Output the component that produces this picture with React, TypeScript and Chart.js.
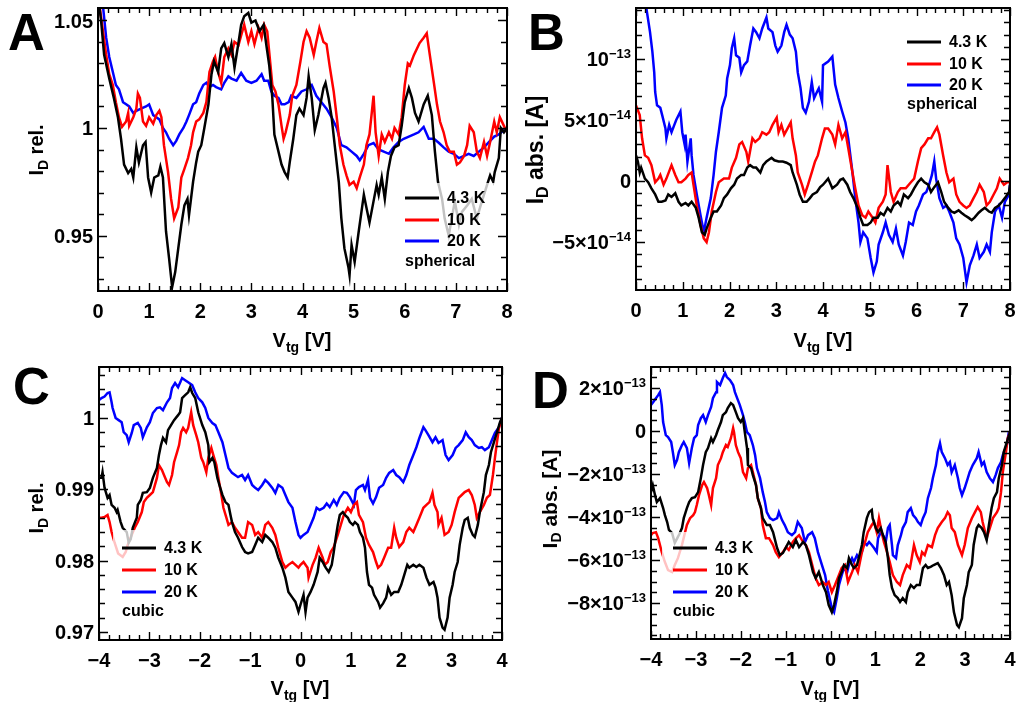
import React, { useEffect, useRef } from "react";
import { Chart, registerables } from "chart.js";

Chart.register(...registerables);

type Pt = [number, number];

// ---------- Panel A (spherical, I_D rel.) : [V_tg (V), I_D rel.] ----------
const aK43: Pt[] = [[0,1.062],[0.06,1.05],[0.12,1.034],[0.22,1.023],[0.31,1.014],[0.39,1.005],[0.45,0.995],[0.51,0.983],[0.59,0.979],[0.65,0.981],[0.69,0.977],[0.75,0.991],[0.8,0.984],[0.88,0.992],[0.93,0.9935],[0.98,0.977],[1.04,0.97],[1.1,0.977],[1.18,0.978],[1.22,0.982],[1.27,0.977],[1.33,0.952],[1.39,0.9395],[1.45,0.926],[1.51,0.933],[1.57,0.944],[1.63,0.955],[1.69,0.964],[1.75,0.967],[1.78,0.9595],[1.86,0.975],[1.92,0.984],[1.96,0.989],[2.02,0.992],[2.08,1.0],[2.16,1.011],[2.22,1.025],[2.27,1.031],[2.35,1.026],[2.41,1.037],[2.47,1.0395],[2.55,1.033],[2.61,1.039],[2.67,1.028],[2.75,1.04],[2.8,1.048],[2.86,1.052],[2.94,1.0535],[3.0,1.049],[3.08,1.05],[3.16,1.045],[3.24,1.048],[3.29,1.039],[3.35,1.029],[3.41,1.014],[3.45,0.997],[3.53,0.989],[3.59,0.983],[3.65,0.9795],[3.71,0.977],[3.75,0.984],[3.82,0.995],[3.88,1.006],[3.94,1.009],[4.02,1.006],[4.08,1.014],[4.12,1.024],[4.18,1.014],[4.24,0.999],[4.31,1.006],[4.41,1.0186],[4.45,1.021],[4.51,1.014],[4.57,1.005],[4.63,0.992],[4.71,0.975],[4.76,0.958],[4.82,0.944],[4.9,0.935],[4.92,0.9316],[4.96,0.9456],[5.02,0.9377],[5.1,0.952],[5.2,0.969],[5.25,0.963],[5.31,0.956],[5.39,0.966],[5.45,0.9735],[5.49,0.969],[5.55,0.977],[5.61,0.967],[5.67,0.9795],[5.73,0.987],[5.8,0.991],[5.88,0.992],[5.94,1.001],[6.0,1.012],[6.08,1.0186],[6.14,1.014],[6.2,1.007],[6.27,1.003],[6.37,1.011],[6.45,1.015],[6.53,1.006],[6.59,0.989],[6.65,0.975],[6.73,0.967],[6.78,0.958],[6.86,0.95],[6.92,0.958],[6.98,0.966],[7.06,0.955],[7.12,0.961],[7.22,0.964],[7.31,0.967],[7.41,0.958],[7.51,0.966],[7.61,0.9735],[7.67,0.978],[7.73,0.975],[7.76,0.9795],[7.84,0.986],[7.88,1.0],[7.94,0.998],[8.0,1.0]];
const aK10: Pt[] = [[0,1.062],[0.08,1.048],[0.16,1.034],[0.22,1.025],[0.29,1.02],[0.35,1.012],[0.41,1.005],[0.47,1.0005],[0.55,1.003],[0.59,1.007],[0.61,1.001],[0.69,1.005],[0.75,1.009],[0.78,1.016],[0.82,1.014],[0.88,1.003],[0.94,1.001],[1.0,1.005],[1.08,1.002],[1.14,1.006],[1.2,1.008],[1.24,1.005],[1.29,0.992],[1.37,0.9795],[1.43,0.967],[1.49,0.958],[1.57,0.963],[1.63,0.977],[1.69,0.981],[1.76,0.986],[1.82,0.992],[1.86,0.998],[1.92,1.003],[1.98,1.004],[2.06,1.007],[2.12,1.012],[2.18,1.026],[2.25,1.031],[2.29,1.033],[2.35,1.026],[2.41,1.021],[2.47,1.033],[2.55,1.037],[2.61,1.034],[2.67,1.04],[2.75,1.0386],[2.8,1.043],[2.86,1.048],[2.94,1.04],[3.0,1.045],[3.06,1.039],[3.14,1.0465],[3.2,1.042],[3.25,1.048],[3.31,1.045],[3.35,1.035],[3.41,1.02],[3.47,1.017],[3.53,1.011],[3.59,1.001],[3.63,0.995],[3.67,0.998],[3.75,1.006],[3.8,1.015],[3.88,1.02],[3.96,1.031],[4.02,1.04],[4.08,1.045],[4.14,1.042],[4.22,1.034],[4.27,1.04],[4.33,1.0465],[4.41,1.04],[4.47,1.039],[4.53,1.029],[4.61,1.017],[4.67,1.005],[4.73,0.992],[4.8,0.983],[4.86,0.978],[4.92,0.9735],[5.0,0.975],[5.06,0.972],[5.12,0.977],[5.2,0.983],[5.25,0.992],[5.31,0.997],[5.39,1.015],[5.43,0.998],[5.49,0.987],[5.55,0.997],[5.61,0.9935],[5.69,0.998],[5.75,0.995],[5.8,1.0],[5.88,0.997],[5.94,1.005],[6.0,1.02],[6.06,1.03],[6.1,1.029],[6.18,1.034],[6.24,1.037],[6.29,1.0395],[6.37,1.042],[6.43,1.044],[6.49,1.034],[6.57,1.021],[6.63,1.011],[6.69,1.003],[6.76,0.998],[6.82,0.992],[6.88,0.989],[6.96,0.989],[7.02,0.983],[7.08,0.984],[7.16,0.987],[7.22,0.992],[7.27,1.001],[7.35,0.998],[7.41,0.989],[7.47,0.986],[7.55,0.9935],[7.61,0.987],[7.67,0.9935],[7.75,1.003],[7.8,0.998],[7.86,1.005],[7.94,1.001],[8.0,0.998]];
const aK20: Pt[] = [[0,1.062],[0.1,1.056],[0.16,1.042],[0.22,1.033],[0.29,1.026],[0.35,1.02],[0.41,1.018],[0.49,1.012],[0.55,1.011],[0.61,1.01],[0.69,1.007],[0.75,1.008],[0.84,1.009],[0.94,1.01],[1.0,1.011],[1.08,1.006],[1.14,1.005],[1.2,1.004],[1.27,1.0],[1.33,0.998],[1.39,0.995],[1.47,0.992],[1.53,0.994],[1.59,0.997],[1.67,1.0],[1.73,1.003],[1.78,1.006],[1.86,1.011],[1.92,1.012],[1.98,1.016],[2.06,1.02],[2.12,1.021],[2.18,1.019],[2.25,1.02],[2.31,1.019],[2.41,1.018],[2.47,1.021],[2.55,1.024],[2.61,1.023],[2.71,1.022],[2.8,1.0256],[2.9,1.022],[3.0,1.021],[3.1,1.022],[3.2,1.025],[3.25,1.022],[3.33,1.022],[3.39,1.017],[3.45,1.015],[3.53,1.014],[3.59,1.011],[3.65,1.011],[3.73,1.012],[3.78,1.015],[3.88,1.014],[3.98,1.017],[4.08,1.018],[4.18,1.02],[4.27,1.015],[4.37,1.012],[4.47,1.009],[4.57,1.005],[4.67,1.0],[4.76,0.992],[4.86,0.991],[4.96,0.989],[5.06,0.987],[5.12,0.985],[5.2,0.988],[5.29,0.992],[5.39,0.993],[5.49,0.99],[5.59,0.989],[5.69,0.988],[5.78,0.991],[5.88,0.9935],[5.98,0.995],[6.08,0.996],[6.18,0.997],[6.27,0.998],[6.37,1.0005],[6.47,0.995],[6.57,0.995],[6.67,0.993],[6.76,0.991],[6.86,0.989],[6.96,0.988],[7.06,0.986],[7.16,0.987],[7.25,0.988],[7.35,0.987],[7.45,0.989],[7.55,0.991],[7.65,0.9935],[7.75,0.996],[7.84,0.997],[7.94,0.999],[8.0,1.0]];

// ---------- Panel B (spherical, I_D abs.) : [V_tg (V), I_D in units of 1e-14 A] ----------
const bK43: Pt[] = [[0,2.1],[0.04,1.6],[0.08,0.7],[0.11,1.1],[0.19,0.2],[0.26,-0.1],[0.33,-0.6],[0.41,-1.1],[0.48,-1.7],[0.55,-1.7],[0.63,-1.6],[0.69,-1.1],[0.76,-1.3],[0.84,-1.0],[0.91,-1.7],[0.97,-2.0],[1.06,-1.8],[1.12,-2.0],[1.19,-1.7],[1.28,-2.2],[1.34,-3.0],[1.41,-4.2],[1.47,-4.4],[1.51,-3.9],[1.6,-3.0],[1.66,-2.5],[1.73,-2.5],[1.82,-2.0],[1.88,-1.4],[1.95,-1.1],[2.03,-0.6],[2.1,-0.3],[2.16,0.2],[2.25,0.5],[2.31,0.5],[2.38,1.1],[2.44,1.3],[2.51,1.1],[2.57,1.1],[2.66,0.7],[2.72,1.3],[2.79,1.6],[2.9,1.9],[2.96,1.7],[3.05,1.6],[3.14,1.6],[3.22,1.5],[3.31,1.3],[3.35,0.7],[3.44,-0.3],[3.5,-1.1],[3.57,-1.7],[3.65,-1.7],[3.72,-1.4],[3.78,-1.1],[3.87,-0.9],[3.94,-0.5],[4.0,-0.3],[4.11,0.2],[4.2,-0.6],[4.3,-0.3],[4.37,0.1],[4.43,0.2],[4.52,-0.3],[4.58,-0.9],[4.65,-1.4],[4.74,-2.2],[4.8,-3.0],[4.86,-3.6],[4.95,-3.6],[5.02,-3.4],[5.08,-3.0],[5.17,-3.0],[5.23,-2.6],[5.3,-2.8],[5.38,-2.2],[5.45,-2.5],[5.51,-2.0],[5.6,-1.7],[5.66,-2.0],[5.73,-1.1],[5.82,-1.4],[5.88,-1.1],[5.95,-0.6],[6.03,-0.1],[6.1,0.2],[6.17,-0.1],[6.25,-0.3],[6.31,-0.9],[6.38,-0.5],[6.46,-0.1],[6.53,-0.9],[6.59,-1.7],[6.68,-2.2],[6.75,-2.5],[6.81,-2.6],[6.9,-2.4],[6.96,-2.6],[7.03,-2.8],[7.11,-3.0],[7.18,-3.2],[7.24,-3.0],[7.33,-2.6],[7.39,-2.4],[7.46,-2.2],[7.55,-2.5],[7.61,-2.6],[7.68,-2.2],[7.76,-2.0],[7.83,-1.7],[7.89,-1.4],[7.98,-0.9],[8.0,-0.3]];
const bK10: Pt[] = [[0,6.2],[0.08,5.4],[0.13,3.5],[0.19,2.1],[0.26,1.9],[0.33,1.3],[0.41,-0.1],[0.48,0.2],[0.52,0.5],[0.59,-0.3],[0.65,0.2],[0.74,1.1],[0.76,1.3],[0.84,0.5],[0.91,-0.1],[0.97,-0.1],[1.06,0.2],[1.12,0.5],[1.19,0.7],[1.23,-0.3],[1.3,-2.0],[1.38,-3.6],[1.45,-4.7],[1.51,-5.0],[1.56,-4.2],[1.62,-2.5],[1.71,-0.9],[1.77,-0.1],[1.88,0.2],[1.99,0.2],[2.05,1.1],[2.14,1.9],[2.21,3.0],[2.27,3.2],[2.36,2.4],[2.4,1.6],[2.49,3.5],[2.55,3.2],[2.64,3.5],[2.7,4.0],[2.79,3.8],[2.85,4.0],[2.92,4.6],[3.01,5.2],[3.05,4.0],[3.11,4.6],[3.17,3.8],[3.24,4.3],[3.31,4.8],[3.35,3.5],[3.42,2.1],[3.46,0.7],[3.55,-0.3],[3.61,-1.1],[3.68,-0.3],[3.76,0.7],[3.83,1.6],[3.89,2.1],[3.98,3.5],[4.04,4.3],[4.11,4.3],[4.2,3.8],[4.26,3.0],[4.33,4.6],[4.41,3.5],[4.48,4.0],[4.54,2.7],[4.63,0.7],[4.69,-0.6],[4.76,-2.0],[4.84,-2.8],[4.91,-3.0],[4.97,-2.5],[5.06,-3.0],[5.12,-3.4],[5.19,-2.2],[5.28,-1.7],[5.34,-1.1],[5.38,1.3],[5.45,-0.9],[5.51,-1.7],[5.6,-0.9],[5.66,-0.6],[5.77,-0.6],[5.88,-0.1],[5.95,0.2],[6.03,1.6],[6.1,2.7],[6.17,3.0],[6.25,3.5],[6.31,3.5],[6.38,4.0],[6.44,4.4],[6.49,3.8],[6.57,2.1],[6.64,0.7],[6.7,-0.1],[6.79,0.2],[6.85,-1.1],[6.92,-1.7],[7.0,-2.0],[7.07,-2.2],[7.14,-2.0],[7.22,-1.4],[7.29,-0.9],[7.35,-0.3],[7.44,-0.9],[7.5,-2.0],[7.57,-1.7],[7.65,-1.1],[7.72,-0.6],[7.78,0.2],[7.87,-0.3],[7.94,-0.1],[8.0,-0.1]];
const bK20: Pt[] = [[0,17],[0.1,15.5],[0.22,14.2],[0.3,12.2],[0.35,10.6],[0.39,8.9],[0.41,7.3],[0.45,6.2],[0.52,6.0],[0.56,5.4],[0.63,4.3],[0.65,3.5],[0.71,4.6],[0.76,4.0],[0.82,4.6],[0.86,5.0],[0.95,5.7],[0.99,4.0],[1.04,3.0],[1.06,3.8],[1.1,1.6],[1.17,3.5],[1.19,2.1],[1.23,0.5],[1.3,-1.1],[1.38,-2.8],[1.45,-4.2],[1.51,-3.0],[1.6,-1.4],[1.66,0.5],[1.71,2.4],[1.77,4.0],[1.84,6.0],[1.92,7.0],[1.95,8.4],[2.01,9.5],[2.05,10.9],[2.1,11.7],[2.14,10.3],[2.21,10.1],[2.25,8.9],[2.31,9.5],[2.38,9.8],[2.44,11.1],[2.51,12.5],[2.57,12.2],[2.64,11.7],[2.7,12.5],[2.79,13.4],[2.83,12.5],[2.92,12.2],[2.98,11.1],[3.03,10.6],[3.11,11.1],[3.17,12.2],[3.22,12.8],[3.29,12.0],[3.35,11.7],[3.42,10.6],[3.46,8.9],[3.52,7.6],[3.57,6.0],[3.63,5.6],[3.7,6.5],[3.76,8.1],[3.81,6.8],[3.87,7.3],[3.91,7.6],[3.98,6.5],[4.0,9.5],[4.11,9.8],[4.2,10.2],[4.26,7.9],[4.33,6.8],[4.41,5.7],[4.48,4.8],[4.54,3.5],[4.63,0.7],[4.69,-1.4],[4.76,-3.4],[4.8,-5.0],[4.86,-4.2],[4.95,-4.7],[5.02,-6.3],[5.08,-7.5],[5.15,-6.6],[5.19,-5.2],[5.28,-4.2],[5.34,-3.4],[5.41,-4.4],[5.49,-5.0],[5.56,-3.9],[5.62,-5.2],[5.71,-6.1],[5.77,-5.0],[5.84,-3.4],[5.92,-3.6],[5.99,-2.5],[6.05,-2.0],[6.14,-1.1],[6.21,-0.9],[6.27,-0.3],[6.33,0.5],[6.38,1.6],[6.42,0.2],[6.49,-1.4],[6.57,-2.2],[6.64,-2.0],[6.7,-2.5],[6.79,-3.4],[6.85,-4.7],[6.92,-5.2],[7.0,-6.3],[7.07,-8.3],[7.14,-6.9],[7.22,-6.1],[7.29,-5.2],[7.35,-6.3],[7.44,-5.8],[7.5,-5.2],[7.57,-5.8],[7.61,-4.2],[7.68,-2.5],[7.76,-2.0],[7.83,-3.0],[7.89,-1.7],[7.98,-1.1],[8.0,-0.3]];

// ---------- Panel C (cubic, I_D rel.) ----------
const cK43: Pt[] = [[-4,0.9916],[-3.95,0.9916],[-3.93,0.9924],[-3.89,0.9902],[-3.83,0.9888],[-3.79,0.9892],[-3.75,0.9878],[-3.69,0.9874],[-3.65,0.9868],[-3.63,0.9871],[-3.57,0.9854],[-3.53,0.9846],[-3.45,0.984],[-3.41,0.9825],[-3.37,0.983],[-3.33,0.9846],[-3.25,0.986],[-3.23,0.9878],[-3.17,0.9885],[-3.13,0.9895],[-3.05,0.9896],[-2.99,0.9902],[-2.93,0.9916],[-2.85,0.993],[-2.81,0.9948],[-2.77,0.9962],[-2.73,0.9972],[-2.67,0.9966],[-2.63,0.9983],[-2.57,0.999],[-2.51,0.9997],[-2.43,1.0004],[-2.39,1.0008],[-2.35,1.0028],[-2.29,1.0032],[-2.23,1.0036],[-2.19,1.0043],[-2.15,1.0035],[-2.09,1.0028],[-2.03,1.0008],[-1.95,0.999],[-1.89,0.998],[-1.83,0.9962],[-1.81,0.9938],[-1.75,0.9944],[-1.71,0.9938],[-1.65,0.9916],[-1.61,0.9906],[-1.55,0.9892],[-1.49,0.9882],[-1.43,0.9878],[-1.39,0.9864],[-1.36,0.9854],[-1.3,0.984],[-1.24,0.9832],[-1.16,0.9819],[-1.1,0.9812],[-1.04,0.981],[-0.96,0.9812],[-0.9,0.9822],[-0.84,0.9832],[-0.76,0.9826],[-0.7,0.9836],[-0.64,0.9832],[-0.56,0.9826],[-0.5,0.9818],[-0.44,0.9804],[-0.36,0.979],[-0.3,0.9776],[-0.24,0.9756],[-0.16,0.9748],[-0.1,0.9742],[-0.04,0.9728],[0.0,0.9738],[0.06,0.9752],[0.1,0.9728],[0.14,0.9748],[0.2,0.9756],[0.26,0.9766],[0.34,0.9784],[0.38,0.9804],[0.44,0.9798],[0.5,0.979],[0.56,0.9784],[0.62,0.9794],[0.66,0.9812],[0.7,0.9832],[0.74,0.985],[0.78,0.9864],[0.84,0.9868],[0.88,0.9864],[0.94,0.986],[0.98,0.9854],[1.04,0.985],[1.08,0.9854],[1.14,0.985],[1.18,0.984],[1.24,0.9832],[1.28,0.9818],[1.32,0.9784],[1.36,0.9766],[1.42,0.9762],[1.46,0.9752],[1.54,0.9742],[1.58,0.9734],[1.64,0.974],[1.7,0.9748],[1.74,0.9762],[1.8,0.9752],[1.86,0.9756],[1.94,0.9756],[2.0,0.9766],[2.06,0.978],[2.12,0.9794],[2.16,0.979],[2.24,0.9794],[2.3,0.9791],[2.36,0.9794],[2.44,0.979],[2.5,0.9776],[2.56,0.9766],[2.64,0.977],[2.68,0.9762],[2.72,0.9748],[2.76,0.972],[2.82,0.9706],[2.86,0.9703],[2.92,0.972],[2.96,0.9748],[3.02,0.9766],[3.06,0.9784],[3.12,0.9798],[3.16,0.9822],[3.22,0.9846],[3.26,0.9857],[3.32,0.986],[3.36,0.9846],[3.42,0.9836],[3.46,0.9833],[3.52,0.985],[3.56,0.9868],[3.64,0.9896],[3.68,0.992],[3.74,0.9934],[3.78,0.9952],[3.84,0.9966],[3.9,0.998],[3.96,0.9994],[4.0,1.0]];
const cK10: Pt[] = [[-4,0.986],[-3.95,0.986],[-3.89,0.9861],[-3.83,0.9864],[-3.79,0.9854],[-3.75,0.984],[-3.69,0.9825],[-3.62,0.981],[-3.53,0.9805],[-3.47,0.9812],[-3.43,0.9822],[-3.35,0.9836],[-3.29,0.9846],[-3.23,0.9854],[-3.15,0.9868],[-3.11,0.9882],[-3.05,0.9888],[-2.99,0.9892],[-2.93,0.9896],[-2.85,0.9916],[-2.81,0.9934],[-2.75,0.9927],[-2.71,0.992],[-2.65,0.991],[-2.61,0.9906],[-2.55,0.992],[-2.51,0.9938],[-2.45,0.9952],[-2.41,0.9962],[-2.37,0.998],[-2.33,0.9986],[-2.27,0.998],[-2.23,0.9986],[-2.17,1.0008],[-2.13,0.999],[-2.07,0.9976],[-2.03,0.9966],[-1.97,0.9944],[-1.93,0.9938],[-1.87,0.9924],[-1.83,0.9944],[-1.77,0.9958],[-1.73,0.9948],[-1.67,0.9934],[-1.63,0.9916],[-1.57,0.9892],[-1.53,0.9874],[-1.47,0.986],[-1.43,0.985],[-1.36,0.9854],[-1.3,0.9846],[-1.24,0.984],[-1.16,0.9832],[-1.1,0.9832],[-1.04,0.9854],[-0.96,0.985],[-0.9,0.9836],[-0.84,0.984],[-0.76,0.9832],[-0.7,0.985],[-0.64,0.9854],[-0.56,0.9846],[-0.5,0.9836],[-0.44,0.9818],[-0.36,0.9798],[-0.3,0.979],[-0.24,0.9794],[-0.16,0.9798],[-0.1,0.9794],[-0.04,0.979],[0.0,0.9794],[0.06,0.9798],[0.14,0.979],[0.16,0.9776],[0.24,0.9794],[0.3,0.9804],[0.36,0.9818],[0.44,0.9804],[0.48,0.9794],[0.54,0.9798],[0.6,0.9812],[0.66,0.9819],[0.74,0.9836],[0.8,0.985],[0.86,0.9864],[0.94,0.9874],[1.0,0.9868],[1.06,0.9878],[1.12,0.9882],[1.16,0.9864],[1.24,0.9854],[1.3,0.9832],[1.36,0.9822],[1.44,0.9812],[1.5,0.9798],[1.54,0.979],[1.6,0.9794],[1.66,0.9804],[1.74,0.9818],[1.8,0.9818],[1.86,0.9846],[1.9,0.9832],[1.96,0.9819],[2.04,0.9826],[2.1,0.984],[2.16,0.9846],[2.24,0.984],[2.3,0.985],[2.36,0.986],[2.44,0.9874],[2.5,0.9878],[2.56,0.9882],[2.62,0.9895],[2.66,0.9878],[2.72,0.9868],[2.74,0.985],[2.8,0.986],[2.86,0.9836],[2.94,0.984],[3.0,0.985],[3.06,0.9868],[3.14,0.9888],[3.2,0.9892],[3.26,0.9896],[3.34,0.9899],[3.4,0.9892],[3.46,0.9878],[3.5,0.986],[3.56,0.9868],[3.64,0.9878],[3.7,0.9888],[3.76,0.9892],[3.82,0.992],[3.86,0.9944],[3.9,0.9966],[3.94,0.9986],[4.0,1.0]];
const cK20: Pt[] = [[-4,1.0025],[-3.95,1.0028],[-3.89,1.003],[-3.83,1.0035],[-3.79,1.0036],[-3.75,1.0022],[-3.73,1.0014],[-3.67,1.0],[-3.61,0.9997],[-3.55,0.9994],[-3.51,0.998],[-3.45,0.9976],[-3.41,0.9966],[-3.35,0.9979],[-3.31,0.999],[-3.23,0.9993],[-3.17,0.9986],[-3.13,0.9973],[-3.05,0.9987],[-2.99,0.9994],[-2.93,1.0007],[-2.85,1.0014],[-2.79,1.0015],[-2.73,1.0011],[-2.65,1.0022],[-2.59,1.0028],[-2.55,1.0042],[-2.49,1.0049],[-2.43,1.0043],[-2.35,1.0056],[-2.29,1.0053],[-2.23,1.005],[-2.15,1.0046],[-2.09,1.0036],[-2.03,1.0028],[-1.95,1.0022],[-1.89,1.0014],[-1.83,1.0],[-1.75,0.9993],[-1.69,0.999],[-1.63,0.998],[-1.55,0.9966],[-1.49,0.9948],[-1.43,0.993],[-1.36,0.9923],[-1.3,0.992],[-1.24,0.9917],[-1.16,0.992],[-1.1,0.9913],[-1.04,0.992],[-0.96,0.9906],[-0.9,0.9902],[-0.84,0.9899],[-0.76,0.9906],[-0.7,0.9913],[-0.64,0.9909],[-0.56,0.9902],[-0.5,0.9895],[-0.44,0.9906],[-0.36,0.9902],[-0.3,0.9892],[-0.24,0.9882],[-0.16,0.9874],[-0.1,0.9854],[-0.04,0.9836],[0.0,0.9832],[0.06,0.9836],[0.14,0.984],[0.2,0.985],[0.26,0.986],[0.32,0.9874],[0.38,0.9871],[0.46,0.9874],[0.52,0.988],[0.58,0.9875],[0.66,0.9885],[0.72,0.9878],[0.78,0.9888],[0.86,0.9896],[0.92,0.9895],[0.98,0.9889],[1.06,0.9878],[1.1,0.9899],[1.16,0.9903],[1.24,0.9906],[1.28,0.9899],[1.34,0.9913],[1.38,0.9888],[1.44,0.988],[1.5,0.9889],[1.56,0.9902],[1.64,0.9906],[1.7,0.9916],[1.76,0.9923],[1.84,0.9927],[1.9,0.992],[1.96,0.9917],[2.04,0.991],[2.1,0.992],[2.16,0.9934],[2.24,0.9948],[2.3,0.9959],[2.36,0.9972],[2.44,0.9987],[2.48,0.9983],[2.54,0.9976],[2.62,0.9966],[2.68,0.9973],[2.74,0.9965],[2.82,0.9969],[2.88,0.9948],[2.94,0.9941],[3.02,0.9948],[3.08,0.9958],[3.14,0.9962],[3.22,0.9969],[3.28,0.998],[3.34,0.9973],[3.4,0.9969],[3.46,0.9962],[3.54,0.9958],[3.6,0.9959],[3.66,0.9955],[3.74,0.9959],[3.8,0.9969],[3.86,0.9979],[3.94,0.9987],[4.0,1.0001]];

// ---------- Panel D (cubic, I_D abs.) : [V_tg (V), I_D in units of 1e-13 A] ----------
const dK43: Pt[] = [[-4,-2.84],[-3.96,-2.51],[-3.91,-2.98],[-3.87,-3.3],[-3.8,-3.12],[-3.73,-3.58],[-3.69,-3.91],[-3.64,-4.23],[-3.6,-4.6],[-3.53,-4.75],[-3.47,-5.2],[-3.42,-5.0],[-3.37,-4.8],[-3.31,-4.51],[-3.27,-4.05],[-3.2,-3.58],[-3.15,-3.3],[-3.09,-3.12],[-3.02,-3.07],[-2.95,-2.84],[-2.89,-2.19],[-2.84,-1.58],[-2.78,-0.98],[-2.73,-0.79],[-2.66,-0.33],[-2.62,-0.51],[-2.55,-0.19],[-2.51,0.05],[-2.44,0.42],[-2.4,0.74],[-2.33,0.88],[-2.29,1.07],[-2.22,1.3],[-2.17,1.21],[-2.11,0.88],[-2.06,0.6],[-2.0,0.42],[-1.95,0.6],[-1.91,-0.05],[-1.86,-0.79],[-1.84,-1.58],[-1.77,-1.72],[-1.73,-2.05],[-1.66,-2.51],[-1.62,-3.12],[-1.55,-3.58],[-1.51,-4.05],[-1.42,-4.37],[-1.35,-4.37],[-1.28,-4.7],[-1.19,-5.44],[-1.13,-5.77],[-1.06,-5.67],[-0.99,-5.4],[-0.93,-5.16],[-0.84,-5.4],[-0.77,-5.07],[-0.7,-5.4],[-0.61,-5.16],[-0.55,-5.3],[-0.48,-5.77],[-0.39,-6.56],[-0.33,-6.84],[-0.26,-6.56],[-0.17,-7.16],[-0.1,-7.49],[-0.04,-8.09],[0.03,-8.42],[0.08,-8.09],[0.14,-7.49],[0.19,-6.84],[0.25,-6.56],[0.3,-6.23],[0.37,-6.37],[0.41,-5.91],[0.48,-6.23],[0.52,-6.37],[0.59,-6.23],[0.63,-5.91],[0.7,-5.3],[0.74,-4.7],[0.81,-4.05],[0.86,-3.77],[0.92,-3.67],[0.94,-4.05],[1.01,-4.51],[1.06,-4.7],[1.12,-4.51],[1.17,-4.84],[1.23,-5.16],[1.28,-5.91],[1.32,-6.7],[1.37,-7.3],[1.43,-7.63],[1.5,-7.77],[1.55,-7.95],[1.61,-7.77],[1.68,-7.95],[1.72,-7.49],[1.79,-7.16],[1.86,-7.3],[1.92,-7.16],[1.99,-7.16],[2.06,-6.37],[2.12,-6.23],[2.17,-6.37],[2.24,-6.3],[2.3,-6.23],[2.39,-6.14],[2.46,-6.37],[2.53,-6.7],[2.59,-7.16],[2.64,-7.02],[2.7,-7.63],[2.75,-8.42],[2.82,-9.02],[2.86,-9.12],[2.93,-8.7],[2.97,-7.77],[3.04,-7.16],[3.08,-6.56],[3.15,-6.23],[3.19,-5.3],[3.26,-4.51],[3.3,-4.37],[3.37,-4.51],[3.42,-4.7],[3.48,-5.07],[3.53,-4.37],[3.59,-3.58],[3.64,-3.12],[3.71,-2.84],[3.75,-2.19],[3.82,-1.58],[3.86,-0.98],[3.93,-0.51],[4.0,-0.05]];
const dK10: Pt[] = [[-4,-4.84],[-3.96,-4.74],[-3.89,-4.7],[-3.84,-4.98],[-3.76,-5.63],[-3.69,-6.09],[-3.62,-6.47],[-3.53,-6.56],[-3.47,-6.23],[-3.4,-5.91],[-3.31,-5.3],[-3.24,-4.7],[-3.2,-4.37],[-3.13,-4.05],[-3.06,-3.91],[-3.02,-3.77],[-2.98,-3.44],[-2.93,-2.98],[-2.86,-2.51],[-2.82,-2.37],[-2.75,-2.65],[-2.71,-2.98],[-2.66,-3.44],[-2.62,-2.65],[-2.55,-2.19],[-2.51,-1.58],[-2.44,-1.26],[-2.4,-0.98],[-2.33,-0.65],[-2.29,-0.74],[-2.22,-0.33],[-2.17,0.14],[-2.15,-0.05],[-2.11,-0.65],[-2.06,-0.98],[-2.0,-1.26],[-1.95,-1.91],[-1.88,-2.19],[-1.84,-1.72],[-1.77,-1.58],[-1.73,-1.91],[-1.66,-2.51],[-1.62,-3.12],[-1.55,-3.58],[-1.51,-4.37],[-1.44,-4.98],[-1.37,-4.98],[-1.28,-5.3],[-1.22,-5.63],[-1.15,-5.86],[-1.06,-5.63],[-0.99,-5.4],[-0.93,-5.53],[-0.84,-5.16],[-0.77,-4.98],[-0.7,-4.84],[-0.61,-5.16],[-0.55,-5.3],[-0.48,-5.63],[-0.39,-6.37],[-0.33,-6.84],[-0.26,-7.16],[-0.17,-7.02],[-0.1,-7.16],[-0.04,-7.02],[0.03,-7.49],[0.1,-7.16],[0.16,-6.84],[0.25,-6.37],[0.32,-6.23],[0.39,-7.02],[0.48,-6.56],[0.54,-6.23],[0.61,-6.56],[0.7,-5.63],[0.77,-5.16],[0.83,-4.7],[0.92,-4.37],[0.97,-4.23],[1.03,-4.7],[1.08,-4.05],[1.14,-4.7],[1.19,-5.16],[1.26,-5.63],[1.32,-6.09],[1.39,-6.7],[1.48,-7.02],[1.55,-7.16],[1.61,-6.7],[1.7,-6.23],[1.77,-6.37],[1.81,-5.91],[1.86,-5.3],[1.92,-5.77],[1.99,-6.09],[2.04,-5.63],[2.1,-5.77],[2.17,-5.3],[2.26,-5.4],[2.33,-4.84],[2.39,-4.51],[2.48,-4.23],[2.55,-4.05],[2.61,-3.77],[2.66,-3.91],[2.7,-4.51],[2.77,-4.7],[2.84,-5.3],[2.93,-5.77],[2.99,-5.3],[3.06,-4.51],[3.15,-4.05],[3.22,-3.77],[3.28,-3.53],[3.35,-3.77],[3.39,-4.23],[3.48,-4.98],[3.55,-4.51],[3.62,-4.05],[3.71,-3.77],[3.75,-3.58],[3.8,-2.84],[3.84,-1.91],[3.91,-0.98],[3.95,-0.33],[4.0,-0.05]];
const dK20: Pt[] = [[-4,1.21],[-3.95,1.35],[-3.89,1.53],[-3.84,1.67],[-3.8,1.81],[-3.76,1.21],[-3.73,0.42],[-3.67,-0.19],[-3.62,-0.28],[-3.55,-0.51],[-3.51,-1.02],[-3.47,-1.58],[-3.42,-1.35],[-3.38,-0.98],[-3.31,-0.65],[-3.27,-0.51],[-3.2,-0.79],[-3.15,-1.49],[-3.09,-0.79],[-3.04,-0.33],[-2.98,-0.19],[-2.95,0.28],[-2.89,0.6],[-2.84,0.74],[-2.78,0.42],[-2.73,0.74],[-2.66,1.12],[-2.62,1.53],[-2.55,1.81],[-2.53,2.28],[-2.46,2.14],[-2.4,2.47],[-2.35,2.7],[-2.31,2.51],[-2.24,2.37],[-2.17,2.14],[-2.13,1.81],[-2.08,1.53],[-2.02,1.21],[-1.95,0.74],[-1.91,0.42],[-1.86,-0.05],[-1.8,-0.19],[-1.73,-0.65],[-1.68,-1.12],[-1.64,-1.72],[-1.57,-2.19],[-1.51,-2.84],[-1.46,-3.3],[-1.42,-3.77],[-1.35,-4.05],[-1.28,-4.14],[-1.19,-4.05],[-1.15,-3.77],[-1.08,-4.14],[-1.02,-4.37],[-0.95,-4.7],[-0.86,-4.84],[-0.79,-4.7],[-0.73,-4.23],[-0.64,-4.51],[-0.57,-5.16],[-0.5,-4.84],[-0.41,-4.7],[-0.35,-4.98],[-0.28,-5.63],[-0.19,-6.23],[-0.12,-6.7],[-0.06,-7.4],[0.03,-8.23],[0.08,-8.42],[0.14,-7.77],[0.19,-7.16],[0.25,-6.7],[0.3,-6.37],[0.37,-6.56],[0.41,-6.23],[0.48,-5.91],[0.52,-6.09],[0.59,-5.77],[0.63,-5.91],[0.7,-5.63],[0.74,-5.16],[0.81,-5.3],[0.86,-5.16],[0.92,-5.3],[0.97,-5.44],[1.03,-5.63],[1.06,-4.98],[1.12,-4.7],[1.17,-4.84],[1.23,-5.16],[1.28,-4.51],[1.32,-4.37],[1.37,-5.3],[1.39,-5.77],[1.46,-5.91],[1.5,-5.3],[1.57,-4.84],[1.61,-4.51],[1.68,-4.23],[1.72,-3.77],[1.79,-3.58],[1.84,-3.91],[1.9,-4.05],[1.95,-4.23],[2.01,-4.37],[2.06,-4.05],[2.12,-3.77],[2.17,-3.12],[2.24,-2.65],[2.28,-2.19],[2.35,-1.58],[2.39,-0.98],[2.44,-0.56],[2.48,-0.98],[2.55,-1.26],[2.61,-1.58],[2.66,-1.44],[2.7,-1.91],[2.77,-1.58],[2.84,-2.19],[2.88,-2.65],[2.93,-2.98],[2.99,-2.65],[3.06,-2.19],[3.1,-1.91],[3.17,-1.58],[3.26,-1.26],[3.3,-0.98],[3.37,-1.58],[3.42,-1.44],[3.48,-1.91],[3.55,-2.19],[3.62,-2.37],[3.68,-2.05],[3.73,-1.72],[3.8,-1.44],[3.84,-1.12],[3.93,-0.65],[3.97,-0.09],[4.0,-0.05]];

// ---------- ticks & labels ("^" separates a superscript) ----------
const xTicksSph = [0, 1, 2, 3, 4, 5, 6, 7, 8];
const xTicksCub = [-4, -3, -2, -1, 0, 1, 2, 3, 4];
const yTicksA = [0.95, 1, 1.05];
const yLabelsA = ["0.95", "1", "1.05"];
const yTicksB = [-5, 0, 5, 10]; // units of 1e-14 A
const yLabelsB = ["\u22125\u00D710^\u221214", "0", "5\u00D710^\u221214", "10^\u221213"];
const yTicksC = [0.97, 0.98, 0.99, 1];
const yLabelsC = ["0.97", "0.98", "0.99", "1"];
const yTicksD = [-8, -6, -4, -2, 0, 2]; // units of 1e-13 A
const yLabelsD = ["\u22128\u00D710^\u221213", "\u22126\u00D710^\u221213", "\u22124\u00D710^\u221213", "\u22122\u00D710^\u221213", "0", "2\u00D710^\u221213"];
const seriesLabels = ["4.3 K", "10 K", "20 K"];
const seriesColors = ["#000000", "#ff0000", "#0000ff"];

const FONT = '"Liberation Sans", Arial, Helvetica, sans-serif';

interface Panel {
  key: string;
  box: { left: number; top: number; width: number; height: number };
  area: { l: number; t: number; r: number; b: number };
  x: { min: number; max: number; ticks: number[]; minor: number };
  y: { min: number; max: number; ticks: number[]; labels: string[]; minor: number };
  series: Pt[][];
  letter: { text: string; x: number; y: number };
  yTitle: { rest: string; x: number; y: number; size: number };
  xTitle: { x: number; y: number; size: number };
  legend: { x: number; rows: number[]; note: string; noteY: number; box: [number, number, number, number] };
}

const panels: Panel[] = [
  {
    key: "A",
    box: { left: 0, top: 0, width: 515, height: 355 },
    area: { l: 98, t: 8, r: 507, b: 291 },
    x: { min: 0, max: 8, ticks: xTicksSph, minor: 0.2 },
    y: { min: 0.9242, max: 1.0558, ticks: yTicksA, labels: yLabelsA, minor: 0.01 },
    series: [aK43, aK10, aK20],
    letter: { text: "A", x: 8, y: 50 },
    yTitle: { rest: " rel.", x: 36, y: 150, size: 20 },
    xTitle: { x: 302, y: 340, size: 20 },
    legend: { x: 405, rows: [198, 220, 241], note: "spherical", noteY: 262, box: [400, 183, 97, 95] },
  },
  {
    key: "B",
    box: { left: 515, top: 0, width: 505, height: 355 },
    area: { l: 121, t: 8, r: 495, b: 290 },
    x: { min: 0, max: 8, ticks: xTicksSph, minor: 0.2 },
    y: { min: -8.93, max: 14.18, ticks: yTicksB, labels: yLabelsB, minor: 1 },
    series: [bK43, bK10, bK20],
    letter: { text: "B", x: 13, y: 50 },
    yTitle: { rest: " abs. [A]", x: 20, y: 150, size: 23 },
    xTitle: { x: 308, y: 340, size: 20 },
    legend: { x: 392, rows: [42, 64, 85], note: "spherical", noteY: 105, box: [387, 28, 100, 88] },
  },
  {
    key: "C",
    box: { left: 0, top: 355, width: 515, height: 347 },
    area: { l: 99, t: 12, r: 502, b: 285 },
    x: { min: -4, max: 4, ticks: xTicksCub, minor: 0.2 },
    y: { min: 0.96886, max: 1.00715, ticks: yTicksC, labels: yLabelsC, minor: 0.002 },
    series: [cK43, cK10, cK20],
    letter: { text: "C", x: 13, y: 49 },
    yTitle: { rest: " rel.", x: 36, y: 153, size: 20 },
    xTitle: { x: 300, y: 333, size: 20 },
    legend: { x: 122, rows: [193, 215, 237], note: "cubic", noteY: 257, box: [113, 175, 100, 95] },
  },
  {
    key: "D",
    box: { left: 515, top: 355, width: 505, height: 347 },
    area: { l: 136, t: 12, r: 495, b: 284 },
    x: { min: -4, max: 4, ticks: xTicksCub, minor: 0.2 },
    y: { min: -9.67, max: 2.98, ticks: yTicksD, labels: yLabelsD, minor: 0.5 },
    series: [dK43, dK10, dK20],
    letter: { text: "D", x: 17, y: 53 },
    yTitle: { rest: " abs. [A]", x: 34, y: 144, size: 21 },
    xTitle: { x: 315, y: 333, size: 20 },
    legend: { x: 158, rows: [193, 215, 237], note: "cubic", noteY: 257, box: [147, 177, 100, 93] },
  },
];

type Run = { t: string; sub?: boolean; sup?: boolean };

function runFont(r: Run, size: number) {
  if (r.sub) return `bold ${Math.round(size * 0.68)}px ${FONT}`;
  if (r.sup) return `bold ${Math.round(size * 0.66)}px ${FONT}`;
  return `bold ${size}px ${FONT}`;
}

// align: "center" or "right" (anchor x is right edge)
function drawRuns(ctx: CanvasRenderingContext2D, runs: Run[], size: number, cx: number, cy: number, rot: number, align: "center" | "right" = "center") {
  ctx.save();
  ctx.translate(cx, cy);
  ctx.rotate(rot);
  let w = 0;
  for (const r of runs) {
    ctx.font = runFont(r, size);
    w += ctx.measureText(r.t).width;
  }
  let x = align === "center" ? -w / 2 : -w;
  ctx.textBaseline = "alphabetic";
  ctx.textAlign = "left";
  ctx.fillStyle = "#000";
  const base = size * 0.36;
  for (const r of runs) {
    ctx.font = runFont(r, size);
    const dy = r.sub ? size * 0.22 : r.sup ? -size * 0.42 : 0;
    ctx.fillText(r.t, x, base + dy);
    x += ctx.measureText(r.t).width;
  }
  ctx.restore();
}

function labelRuns(label: string): Run[] {
  const parts = label.split("^");
  const runs: Run[] = [{ t: parts[0] }];
  if (parts.length > 1) runs.push({ t: parts[1], sup: true });
  return runs;
}

function makeDeco(p: Panel) {
  return {
    id: "deco" + p.key,
    afterDatasetsDraw(chart: any) {
      const ctx: CanvasRenderingContext2D = chart.ctx;
      const lg = p.legend;
      ctx.save();
      ctx.fillStyle = "rgba(255,255,255,0.76)";
      ctx.fillRect(lg.box[0], lg.box[1], lg.box[2], lg.box[3]);
      ctx.lineCap = "butt";
      for (let i = 0; i < 3; i++) {
        ctx.strokeStyle = seriesColors[i];
        ctx.lineWidth = 3.2;
        ctx.beginPath();
        ctx.moveTo(lg.x, lg.rows[i]);
        ctx.lineTo(lg.x + 34, lg.rows[i]);
        ctx.stroke();
        ctx.fillStyle = "#000";
        ctx.font = `bold 16px ${FONT}`;
        ctx.textBaseline = "middle";
        ctx.textAlign = "left";
        ctx.fillText(seriesLabels[i], lg.x + 42, lg.rows[i] + 1);
      }
      ctx.fillText(lg.note, lg.x, lg.noteY);
      ctx.restore();
    },
    afterDraw(chart: any) {
      const ctx: CanvasRenderingContext2D = chart.ctx;
      const a = chart.chartArea;
      const xs = chart.scales.x;
      const ys = chart.scales.y;
      ctx.save();
      ctx.strokeStyle = "#000";
      ctx.lineWidth = 1.4;
      ctx.beginPath();
      const nx = Math.round((p.x.max - p.x.min) / p.x.minor);
      for (let i = 0; i <= nx; i++) {
        const v = p.x.min + i * p.x.minor;
        const px = Math.round(xs.getPixelForValue(v)) + 0.5;
        const major = Math.abs(v - Math.round(v)) < 1e-6;
        const len = major ? 8 : 5;
        ctx.moveTo(px, a.bottom);
        ctx.lineTo(px, a.bottom - len);
        ctx.moveTo(px, a.top);
        ctx.lineTo(px, a.top + len);
      }
      const k0 = Math.ceil(p.y.min / p.y.minor - 1e-6);
      const k1 = Math.floor(p.y.max / p.y.minor + 1e-6);
      for (let k = k0; k <= k1; k++) {
        const v = k * p.y.minor;
        const py = Math.round(ys.getPixelForValue(v)) + 0.5;
        const major = p.y.ticks.some((t) => Math.abs(t - v) < p.y.minor * 0.01);
        const len = major ? 9 : 6;
        ctx.moveTo(a.left, py);
        ctx.lineTo(a.left + len, py);
        ctx.moveTo(a.right, py);
        ctx.lineTo(a.right - len, py);
      }
      ctx.stroke();
      ctx.lineWidth = 2;
      ctx.strokeRect(a.left, a.top, a.right - a.left, a.bottom - a.top);
      ctx.restore();

      // y tick labels (with superscripts), placed with the y scale
      p.y.ticks.forEach((t, i) => {
        drawRuns(ctx, labelRuns(p.y.labels[i]), 20, a.left - 5, ys.getPixelForValue(t), 0, "right");
      });

      // axis titles
      drawRuns(ctx, [{ t: "I" }, { t: "D", sub: true }, { t: p.yTitle.rest }], p.yTitle.size, p.yTitle.x, p.yTitle.y, -Math.PI / 2);
      drawRuns(ctx, [{ t: "V" }, { t: "tg", sub: true }, { t: " [V]" }], p.xTitle.size, p.xTitle.x, p.xTitle.y, 0);

      // panel letter
      ctx.save();
      ctx.fillStyle = "#000";
      ctx.font = `bold 51px ${FONT}`;
      ctx.textBaseline = "alphabetic";
      ctx.textAlign = "left";
      ctx.fillText(p.letter.text, p.letter.x, p.letter.y);
      ctx.restore();
    },
  };
}

function PanelChart({ p }: { p: Panel }) {
  const ref = useRef<HTMLCanvasElement | null>(null);
  useEffect(() => {
    if (!ref.current) return;
    const tickFont = { family: FONT, size: 20, weight: "bold" as const };
    const chart = new Chart(ref.current, {
      type: "line",
      data: {
        datasets: p.series.map((s, i) => ({
          label: seriesLabels[i],
          data: s.map(([x, y]) => ({ x, y })),
          borderColor: seriesColors[i],
          backgroundColor: seriesColors[i],
          borderWidth: 2.5,
          pointRadius: 0,
          fill: false,
          tension: 0,
        })),
      },
      options: {
        animation: false,
        responsive: false,
        maintainAspectRatio: false,
        devicePixelRatio: 1,
        events: [],
        layout: { padding: { left: 0, top: p.area.t, right: p.box.width - p.area.r, bottom: 0 } },
        plugins: { legend: { display: false }, tooltip: { enabled: false }, title: { display: false } },
        scales: {
          x: {
            type: "linear",
            min: p.x.min,
            max: p.x.max,
            grid: { display: false, drawTicks: false },
            border: { display: false },
            afterBuildTicks: (s: any) => {
              s.ticks = p.x.ticks.map((v) => ({ value: v }));
            },
            afterFit: (s: any) => {
              s.height = p.box.height - p.area.b;
              s.paddingLeft = 0;
              s.paddingRight = 0;
            },
            ticks: {
              font: tickFont,
              color: "#000",
              padding: 9,
              maxRotation: 0,
              autoSkip: false,
              callback: (v: any) => (Number(v) < 0 ? "\u2212" + Math.abs(Number(v)) : String(v)),
            },
          },
          y: {
            type: "linear",
            min: p.y.min,
            max: p.y.max,
            grid: { display: false, drawTicks: false },
            border: { display: false },
            afterBuildTicks: (s: any) => {
              s.ticks = p.y.ticks.map((v) => ({ value: v }));
            },
            afterFit: (s: any) => {
              s.width = p.area.l;
              s.paddingTop = 0;
              s.paddingBottom = 0;
            },
            ticks: { display: false },
          },
        },
      } as any,
      plugins: [makeDeco(p)],
    });
    return () => chart.destroy();
  }, [p]);
  return (
    <canvas
      ref={ref}
      width={p.box.width}
      height={p.box.height}
      style={{ position: "absolute", left: p.box.left, top: p.box.top, width: p.box.width, height: p.box.height }}
    />
  );
}

export default function App() {
  return (
    <div style={{ position: "fixed", left: 0, top: 0, width: 1020, height: 702, background: "#fff", overflow: "hidden" }}>
      {panels.map((p) => (
        <PanelChart key={p.key} p={p} />
      ))}
    </div>
  );
}
